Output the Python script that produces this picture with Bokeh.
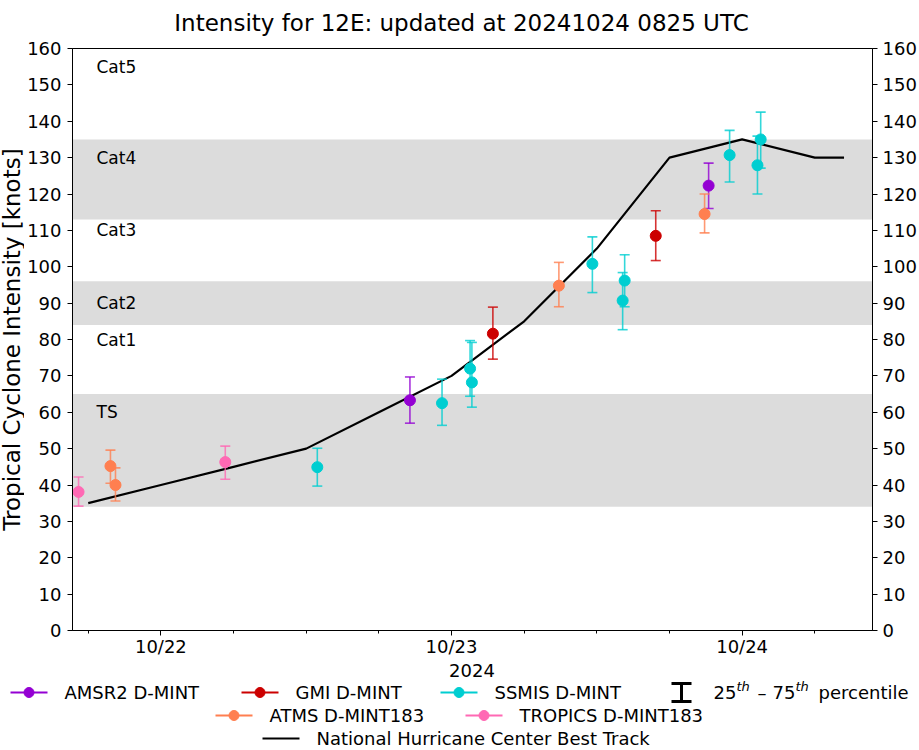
import numpy as np
import pandas as pd
from bokeh.plotting import figure
from bokeh.models import (Range1d, FixedTicker, DatetimeTickFormatter, LinearAxis,
                          BoxAnnotation, Label, ColumnDataSource)
from bokeh.layouts import column, row
from bokeh.core.properties import value
from bokeh.embed import file_html
from bokeh.resources import INLINE

FONT = "DejaVu Sans"

# ---------------- data ----------------
title_text = "Intensity for 12E: updated at 20241024 0825 UTC"
y_label = "Tropical Cyclone Intensity [knots]"
x_label = "2024"

best_time = ["2024-10-21 18:00", "2024-10-22 00:00", "2024-10-22 06:00", "2024-10-22 12:00",
             "2024-10-22 18:00", "2024-10-23 00:00", "2024-10-23 06:00", "2024-10-23 12:00",
             "2024-10-23 18:00", "2024-10-24 00:00", "2024-10-24 06:00", "2024-10-24 08:25"]
best_vmax = [35, 40, 45, 50, 60, 70, 85, 105, 130, 135, 130, 130]

amsr2_time = ["2024-10-22 20:34", "2024-10-23 21:14"]
amsr2_val = [63.3, 122.3]
amsr2_lo = [57.0, 116.0]
amsr2_hi = [69.7, 128.5]

gmi_time = ["2024-10-23 03:25", "2024-10-23 16:52"]
gmi_val = [81.6, 108.5]
gmi_lo = [74.6, 101.7]
gmi_hi = [88.9, 115.4]

ssmis_time = ["2024-10-22 12:55", "2024-10-22 23:13", "2024-10-23 01:32", "2024-10-23 01:41",
              "2024-10-23 11:38", "2024-10-23 14:18", "2024-10-23 14:08", "2024-10-23 22:58",
              "2024-10-24 01:16", "2024-10-24 01:32"]
ssmis_val = [44.9, 62.5, 72.0, 68.2, 100.8, 96.2, 90.7, 130.7, 127.9, 135.0]
ssmis_lo = [39.7, 56.4, 64.4, 61.4, 92.9, 89.0, 82.7, 123.3, 120.0, 127.1]
ssmis_hi = [50.1, 69.1, 79.7, 79.2, 108.2, 103.3, 98.4, 137.5, 135.9, 142.5]

atms_time = ["2024-10-21 19:50", "2024-10-21 20:15", "2024-10-23 08:52", "2024-10-23 20:54"]
atms_val = [45.2, 40.0, 94.8, 114.5]
atms_lo = [40.5, 35.6, 89.0, 109.3]
atms_hi = [49.6, 44.7, 101.2, 120.0]

tropics_time = ["2024-10-21 17:12", "2024-10-22 05:19"]
tropics_val = [38.1, 46.3]
tropics_lo = [34.2, 41.6]
tropics_hi = [42.2, 50.7]

band_bottom = [34, 84, 113]
band_top = [65, 96, 135]
cat_names = ["TS", "Cat1", "Cat2", "Cat3", "Cat4", "Cat5"]
cat_y = [60, 80, 90, 110, 130, 155]

x_major = ["2024-10-22", "2024-10-23", "2024-10-24"]
x_start, x_end = "2024-10-21 16:42", "2024-10-24 10:46"
y_ticks = list(range(0, 161, 10))
nhc_label = "National Hurricane Center Best Track"

series = [
    ("AMSR2 D-MINT", "#9400d3", amsr2_time, amsr2_val, amsr2_lo, amsr2_hi),
    ("GMI D-MINT", "#cc0000", gmi_time, gmi_val, gmi_lo, gmi_hi),
    ("SSMIS D-MINT", "#00ced1", ssmis_time, ssmis_val, ssmis_lo, ssmis_hi),
    ("ATMS D-MINT183", "#ff7f50", atms_time, atms_val, atms_lo, atms_hi),
    ("TROPICS D-MINT183", "#ff69b4", tropics_time, tropics_val, tropics_lo, tropics_hi),
]


def ms(s):
    return pd.Timestamp(s).value // 10**6


W = 919
TITLE_H = 38            # title strip (page y 0..38)
B_TOP, B_BOT = 10, 28   # main figure borders -> frame page y 48..631
FRAME_H = 583
MAIN_H = B_TOP + FRAME_H + B_BOT
YL_W = 24
BOTTOM_Y = TITLE_H + MAIN_H   # page y where the legend strip starts


def strip(width, height, xr, yr, **kw):
    f = figure(width=width, height=height, x_range=xr, y_range=yr, output_backend="svg",
               toolbar_location=None, min_border=0, x_axis_location=None,
               y_axis_location=None, **kw)
    f.grid.visible = False
    f.outline_line_color = None
    f.background_fill_color = "white"
    f.border_fill_color = "white"
    return f


# ---------------- title strip ----------------
tf = strip(W, TITLE_H, Range1d(0, W), Range1d(TITLE_H, 0),
           min_border_left=0, min_border_right=0, min_border_top=0, min_border_bottom=0)
tf.text([461], [22], text=[title_text], text_font=value(FONT), text_font_size="23px",
        text_align="center", text_baseline="middle", text_color="black")

# ---------------- main figure ----------------
p = figure(width=W - YL_W, height=MAIN_H, x_axis_type="datetime", output_backend="svg",
           toolbar_location=None,
           x_range=Range1d(ms(x_start), ms(x_end)), y_range=Range1d(0, 160),
           min_border_left=71 - YL_W, min_border_right=47, min_border_top=B_TOP,
           min_border_bottom=B_BOT)
p.xgrid.visible = False
p.ygrid.visible = False
p.outline_line_color = "black"
p.outline_line_width = 1
p.background_fill_color = "white"
p.border_fill_color = "white"

majors = [ms(d) for d in x_major]
minors = [m for m in range(ms("2024-10-21 18:00"), ms("2024-10-24 07:00"), 6 * 3600 * 1000)
          if m not in majors]
p.xaxis.ticker = FixedTicker(ticks=majors, minor_ticks=minors)
fmt = "%m/%d"
p.xaxis.formatter = DatetimeTickFormatter(days=fmt, hours=fmt, hourmin=fmt, minutes=fmt,
                                          minsec=fmt, seconds=fmt, months=fmt, years=fmt)

p.yaxis.ticker = FixedTicker(ticks=y_ticks, minor_ticks=[])
p.add_layout(LinearAxis(ticker=FixedTicker(ticks=y_ticks, minor_ticks=[])), "right")

for ax in p.axis:
    ax.axis_line_color = "black"
    ax.axis_line_width = 1
    ax.major_tick_line_color = "black"
    ax.major_tick_in = 0
    ax.major_tick_out = 5
    ax.minor_tick_line_color = "black"
    ax.minor_tick_in = 0
    ax.minor_tick_out = 3
    ax.major_label_text_font = FONT
    ax.major_label_text_font_size = "18px"
    ax.major_label_text_color = "black"

p.xaxis.major_label_standoff = 0
p.yaxis[0].major_label_standoff = 6
p.yaxis[1].major_label_standoff = 5

for b, t in zip(band_bottom, band_top):
    p.add_layout(BoxAnnotation(bottom=b, top=t, fill_color="#dcdcdc", fill_alpha=1.0,
                               line_color=None, level="underlay"))

for name, yy in zip(cat_names, cat_y):
    p.add_layout(Label(x=24, x_units="screen", y=yy, y_units="data", text=name,
                       text_font=FONT, text_font_size="17px", text_color="black",
                       text_baseline="middle", text_align="left"))

best_src = ColumnDataSource(dict(t=[ms(s) for s in best_time], v=best_vmax))
p.line("t", "v", source=best_src, line_color="black", line_width=2.2)

for name, col, tt, vv, lo, hi in series:
    src = ColumnDataSource(dict(t=[ms(s) for s in tt], v=vv, lo=lo, hi=hi))
    p.segment(x0="t", y0="lo", x1="t", y1="hi", source=src, line_color=col,
              line_width=1.6, line_alpha=0.8)
    p.scatter("t", "lo", source=src, marker="dash", size=10, line_color=col,
              line_width=1.6, line_alpha=0.8)
    p.scatter("t", "hi", source=src, marker="dash", size=10, line_color=col,
              line_width=1.6, line_alpha=0.8)
for name, col, tt, vv, lo, hi in series:
    src = ColumnDataSource(dict(t=[ms(s) for s in tt], v=vv))
    p.scatter("t", "v", source=src, size=11, fill_color=col, line_color=col)

# ---------------- y-label strip (same vertical borders as the main figure) ----------------
yl = strip(YL_W, MAIN_H, Range1d(0, YL_W), p.y_range,
           min_border_left=0, min_border_right=0, min_border_top=B_TOP,
           min_border_bottom=B_BOT)
yl.text([11], [80], text=[y_label], angle=np.pi / 2, text_font=value(FONT),
        text_font_size="23px", text_align="center", text_baseline="middle",
        text_color="black")

# ---------------- bottom strip: x-axis label + legend (page-pixel coordinates) ----------------
LG_H = 750 - BOTTOM_Y
lg = strip(W, LG_H, Range1d(0, W), Range1d(750, BOTTOM_Y),
           min_border_left=0, min_border_right=0, min_border_top=0, min_border_bottom=0)
lg.text([471.5], [670], text=[x_label], text_font=value(FONT), text_font_size="18px",
        text_align="center", text_baseline="middle", text_color="black")

rows = [692, 715, 738]
leg_items = [  # (series index, handle start x, row)
    (0, 10, 0), (1, 241, 0), (2, 440, 0), (3, 215, 1), (4, 465, 1)]
for idx, x0, r in leg_items:
    name, col = series[idx][0], series[idx][1]
    y = rows[r]
    lg.line([x0, x0 + 37], [y, y], line_color=col, line_width=2)
    lg.scatter([x0 + 18.5], [y], size=10, fill_color=col, line_color=col)
    lg.text([x0 + 54], [y], text=[name], text_font=value(FONT), text_font_size="18px",
            text_baseline="middle", text_align="left", text_color="black")
lg.line([262, 299], [rows[2], rows[2]], line_color="black", line_width=2.2)
lg.text([316], [rows[2]], text=[nhc_label], text_font=value(FONT),
        text_font_size="18px", text_baseline="middle", text_align="left", text_color="black")

# errorbar symbol
y = rows[0]
lg.segment(x0=[681], y0=[y - 9], x1=[681], y1=[y + 9], line_color="black", line_width=3)
lg.segment(x0=[671, 671], y0=[y - 9, y + 9], x1=[691, 691], y1=[y - 9, y + 9],
           line_color="black", line_width=3)
pieces = [("25", 713, 0, "18px", "normal"), ("th", 736, -6, "13px", "italic"),
          ("\u2013", 757, 0, "18px", "normal"), ("75", 772, 0, "18px", "normal"),
          ("th", 795, -6, "13px", "italic"), ("percentile", 818, 0, "18px", "normal")]
for txt, xx, dy, fs, st in pieces:
    lg.text([xx], [y + dy], text=[txt], text_font=value(FONT), text_font_size=fs,
            text_font_style=st, text_baseline="middle", text_align="left", text_color="black")

layout = column(row(tf), row(yl, p), row(lg), spacing=0)
open("out.html", "w").write(file_html(layout, INLINE))
